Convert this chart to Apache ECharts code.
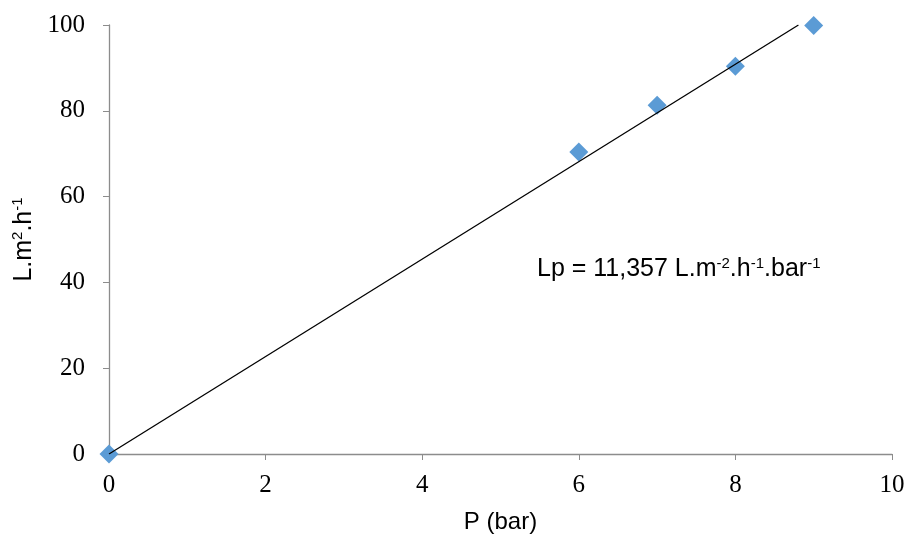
<!DOCTYPE html>
<html>
<head>
<meta charset="utf-8">
<script src="https://cdn.jsdelivr.net/npm/echarts@6/dist/echarts.min.js"></script>
<style>html,body{margin:0;padding:0;background:#fff}#c{width:909px;height:537px}</style>
</head>
<body>
<div id="c"></div>
<script>
const pressure = [0, 6, 7, 8, 9];
const flux = [0, 70.4, 81.3, 90.4, 99.9];
const trendX = [0, 8.805];
const trendY = [0, 100];
const xTicks = [0, 2, 4, 6, 8, 10];
const yTicks = [0, 20, 40, 60, 80, 100];

const chart = echarts.init(document.getElementById('c'));
const serif = '"Liberation Serif", "Times New Roman", serif';
const sans = '"Liberation Sans", Arial, sans-serif';
const sup = {fontSize: 15, fontFamily: sans, color: '#000', verticalAlign: 'top', padding: [0, 0, 12, 0]};
chart.setOption({
  animation: false,
  grid: {left: 109, right: 17, top: 25, bottom: 83, outerBoundsMode: 'none', containLabel: false},
  xAxis: {
    type: 'value', min: 0, max: 10, interval: 2,
    name: 'P (bar)', nameLocation: 'middle', nameGap: 56,
    nameTextStyle: {fontFamily: sans, fontSize: 24, color: '#000'},
    axisLine: {lineStyle: {color: '#8c8c8c', width: 1.3}},
    axisTick: {show: true, length: 6, inside: false, lineStyle: {color: '#8c8c8c'}},
    axisLabel: {fontFamily: serif, fontSize: 25, color: '#000', margin: 19},
    splitLine: {show: false}
  },
  yAxis: {
    type: 'value', min: 0, max: 100, interval: 20,
    name: '{a|L.m}{s|2}{a|.h}{s|-1}', nameLocation: 'middle', nameGap: 71, nameRotate: 90,
    nameTextStyle: {rich: {a: {fontFamily: sans, fontSize: 25, color: '#000'}, s: sup}},
    axisLine: {show: true, lineStyle: {color: '#8c8c8c', width: 1.3}},
    axisTick: {show: true, length: 6, inside: false, lineStyle: {color: '#8c8c8c'}},
    axisLabel: {fontFamily: serif, fontSize: 25, color: '#000', margin: 24},
    splitLine: {show: false}
  },
  series: [
    {
      type: 'line', data: trendX.map((x, i) => [x, trendY[i]]),
      showSymbol: false, symbol: 'none',
      lineStyle: {color: '#000', width: 1.3}, z: 3
    },
    {
      type: 'scatter', data: pressure.map((x, i) => [x, flux[i]]),
      symbol: 'diamond', symbolSize: [19, 19],
      itemStyle: {color: '#5B9BD5', opacity: 1}, z: 2
    }
  ],
  graphic: [{
    type: 'text', left: 537, top: 256,
    style: {
      text: '{a|Lp = 11,357 L.m}{s|-2}{a|.h}{s|-1}{a|.bar}{s|-1}',
      rich: {a: {fontFamily: sans, fontSize: 25, color: '#000'}, s: sup}
    }
  }]
});
</script>
</body>
</html>
